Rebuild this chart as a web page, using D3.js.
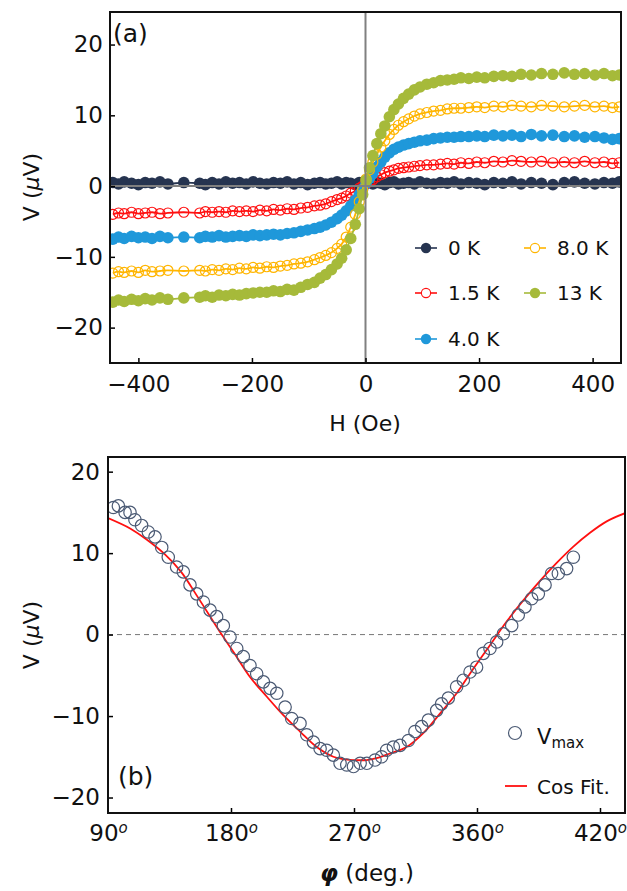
<!DOCTYPE html>
<html>
<head>
<meta charset="utf-8">
<script src="https://cdn.jsdelivr.net/npm/d3@7"></script>
<style>
body { margin: 0; background: #fff; }
svg text { font-family: "DejaVu Sans", sans-serif; fill: #111; }
</style>
</head>
<body>
<svg id="fig" width="627" height="891"></svg>
<script>
// ---- panel (a): V vs H, one row of 10 values per line ----
var fieldOe = [
  -445, -435, -425, -412, -400, -388, -376, -362, -348, -320,
  -292, -282, -270, -258, -246, -234, -222, -210, -198, -186,
  -174, -162, -150, -138, -126, -114, -102, -90, -80, -70,
  -60, -50, -42, -34, -26, -18, -11, -5, 1, 7,
  13, 20, 27, 34, 42, 50, 58, 67, 76, 86,
  96, 108, 120, 132, 144, 156, 168, 182, 196, 210,
  226, 242, 258, 274, 292, 310, 330, 350, 368, 386,
  404, 420, 435, 447
]
var v0K = [
  0.5, 0.3, 0.6, 0.4, 0.2, 0.5, 0.4, 0.6, 0.3, 0.5,
  0.4, 0.2, 0.5, 0.3, 0.6, 0.4, 0.5, 0.3, 0.6, 0.4,
  0.3, 0.5, 0.4, 0.6, 0.3, 0.5, 0.2, 0.4, 0.5, 0.3,
  0.4, 0.6, 0.3, 0.5, 0.4, 0.2, 0.5, 0.3, 0.4, 0.6,
  0.3, 0.5, 0.4, 0.2, 0.5, 0.6, 0.3, 0.4, 0.5, 0.3,
  0.6, 0.4, 0.3, 0.5, 0.4, 0.6, 0.3, 0.5, 0.4, 0.2,
  0.5, 0.4, 0.6, 0.3, 0.5, 0.4, 0.2, 0.5, 0.6, 0.4,
  0.3, 0.5, 0.4, 0.6
]
var v1p5K = [
  -4.0, -3.8, -3.9, -3.7, -3.9, -3.8, -3.7, -3.9, -3.8, -3.7,
  -3.8, -3.6, -3.7, -3.6, -3.7, -3.5, -3.6, -3.5, -3.6, -3.4,
  -3.5, -3.3, -3.4, -3.2, -3.3, -3.1, -3.0, -2.8, -2.7, -2.5,
  -2.2, -1.9, -1.7, -1.4, -1.0, -0.7, -0.3, 0.0, 0.3, 0.6,
  0.9, 1.3, 1.6, 1.9, 2.1, 2.3, 2.5, 2.6, 2.7, 2.8,
  2.9, 3.0, 3.0, 3.1, 3.2, 3.1, 3.3, 3.2, 3.4, 3.3,
  3.5, 3.4, 3.6, 3.5, 3.4, 3.5, 3.3, 3.4, 3.3, 3.5,
  3.3, 3.4, 3.2, 3.3
]
var v4K = [
  -7.5, -7.2, -7.4, -7.1, -7.3, -7.2, -7.4, -7.1, -7.3, -7.2,
  -7.3, -7.1, -7.2, -7.0, -7.2, -7.1, -7.0, -7.1, -6.9, -7.0,
  -6.9, -6.8, -6.9, -6.7, -6.6, -6.4, -6.2, -6.0, -5.8, -5.5,
  -5.1, -4.6, -4.1, -3.5, -2.8, -2.0, -1.2, -0.4, 0.4, 1.1,
  1.8, 2.7, 3.4, 4.1, 4.7, 5.2, 5.5, 5.8, 6.0, 6.2,
  6.4, 6.5, 6.7, 6.8, 6.9, 6.9, 7.0, 7.0, 7.1, 7.0,
  7.2, 7.1, 7.2, 7.0, 7.3, 7.1, 7.2, 7.0, 7.1, 6.9,
  7.0, 6.8, 6.6, 6.7
]
var v8K = [
  -12.3, -12.1, -12.2, -12.0, -12.2, -11.9, -12.1, -12.0, -11.9, -12.0,
  -11.9, -12.0, -11.8, -11.9, -11.7, -11.8, -11.6, -11.7, -11.5, -11.6,
  -11.4, -11.5, -11.3, -11.2, -11.0, -10.9, -10.7, -10.4, -10.1, -9.8,
  -9.4, -8.8, -8.2, -7.2, -5.8, -4.0, -2.2, -0.5, 1.0, 2.3,
  3.4, 4.5, 5.5, 6.4, 7.3, 8.0, 8.6, 9.1, 9.5, 9.9,
  10.2, 10.4, 10.6, 10.7, 10.9, 11.0, 11.0, 11.1, 11.2, 11.1,
  11.3, 11.2, 11.4, 11.3, 11.2, 11.4, 11.3, 11.2, 11.3, 11.4,
  11.2, 11.3, 11.1, 11.2
]
var v13K = [
  -16.4, -16.1, -16.3, -16.0, -16.2, -15.9, -16.1, -15.8, -16.0, -15.8,
  -15.7, -15.5, -15.7, -15.4, -15.5, -15.3, -15.4, -15.2, -15.1, -15.0,
  -15.0, -14.8, -14.9, -14.6, -14.7, -14.3, -13.9, -13.6, -13.0, -12.5,
  -11.8, -11.0, -10.2, -9.0, -7.4, -5.4, -3.2, -1.2, 0.8, 2.6,
  4.3, 6.0, 7.4, 8.5, 9.8, 10.8, 11.6, 12.4, 13.0, 13.6,
  14.0, 14.4, 14.6, 14.9, 15.0, 15.1, 15.3, 15.2, 15.4, 15.3,
  15.5, 15.6, 15.5, 15.8, 15.7, 15.9, 15.8, 16.0, 15.8, 15.9,
  15.7, 15.9, 15.6, 15.7
]
var tempLabels = ["0 K", "1.5 K", "4.0 K", "8.0 K", "13 K"]
var tempColors = ["#263450", "#ff1010", "#1f98da", "#ffb500", "#a6ba3a"]
var tempHollow = [false, true, false, true, false]
var hTicks = [-400, -200, 0, 200, 400]
var vTicks = [-20, -10, 0, 10, 20]

// ---- panel (b): V_max vs angle ----
var phiDeg = [
  93.9, 97.6, 102.5, 106.1, 109.7, 114.6, 119.5, 124.4, 129.3, 134.1,
  140.2, 145.1, 150.0, 154.9, 159.8, 164.7, 169.5, 174.4, 179.3, 184.2,
  189.0, 193.9, 198.8, 203.7, 208.6, 213.5, 219.6, 224.4, 230.5, 235.4,
  240.3, 245.2, 250.0, 254.9, 259.8, 264.7, 269.6, 274.5, 279.4, 285.4,
  290.2, 293.9, 298.8, 303.7, 309.8, 314.6, 319.5, 324.4, 330.5, 334.1,
  339.0, 345.1, 350.0, 354.9, 359.7, 364.6, 369.5, 374.4, 379.3, 385.4,
  390.2, 395.1, 400.0, 404.9, 409.8, 414.6, 419.5, 425.6, 430.5
]
var vMax = [
  15.6, 15.8, 15.0, 15.0, 14.1, 13.4, 12.6, 12.0, 10.7, 9.5,
  8.3, 7.7, 6.1, 5.0, 4.0, 3.0, 2.2, 1.1, -0.3, -1.7,
  -2.7, -3.8, -4.8, -5.8, -6.6, -7.2, -8.9, -10.3, -10.9, -12.3,
  -13.2, -14.0, -14.2, -14.8, -15.8, -16.0, -16.2, -15.8, -15.8, -15.4,
  -15.0, -14.2, -13.8, -13.6, -13.0, -11.9, -11.3, -10.5, -9.3, -8.5,
  -7.8, -6.4, -5.6, -4.6, -4.0, -2.3, -1.7, -0.9, 0.1, 1.1,
  2.4, 3.4, 4.4, 5.0, 6.1, 7.5, 7.5, 8.1, 9.5
]
var fitPhi = [90, 106.5, 118, 131.3, 143.5, 155.7, 173.2, 181.7, 193.9, 206.1, 218.3,
  230.5, 242.7, 254.9, 262, 269.6, 279.3, 288, 296.3, 308.5, 320.7, 332.9, 345.1,
  357.3, 369.5, 381.7, 393.9, 406.1, 418.3, 430.5, 442.7, 454.9, 468.3]
var fitV = [14.3, 13.0, 11.7, 9.9, 7.7, 4.6, 0.0, -2.1, -5.2, -7.6, -9.9,
  -11.9, -13.8, -15.0, -15.3, -15.4, -15.4, -15.1, -14.6, -13.8, -12.1, -9.7, -7.2,
  -4.2, -1.3, 1.6, 4.2, 6.6, 8.8, 10.8, 12.5, 13.9, 14.9]
var phiTicks = [90, 180, 270, 360, 450]
var phiTickLabels = ["90", "180", "270", "360", "420"]

var svg = d3.select("#fig")

// ================= panel (a) =================
var xA = d3.scaleLinear().domain([-450, 450]).range([110, 621])
var yA = d3.scaleLinear().domain([-25, 24.6]).range([363, 12])

svg.append("clipPath").attr("id", "clipA").append("rect")
    .attr("x", 110).attr("y", 12).attr("width", 511).attr("height", 351)

var series = tempLabels.map(function(t, i) {
    var vals = [v0K, v1p5K, v4K, v8K, v13K][i]
    return {label: t, color: tempColors[i], hollow: tempHollow[i],
            pts: fieldOe.map(function(h, j) { return [h, vals[j]] })}
})

var gA = svg.append("g").attr("clip-path", "url(#clipA)")
var lineA = d3.line()
    .x(function(d) { return xA(d[0]) })
    .y(function(d) { return yA(d[1]) })
    .curve(d3.curveMonotoneX)

series.forEach(function(s) {
    var g = gA.append("g")
    g.append("path")
        .attr("d", lineA(s.pts))
        .attr("fill", "none")
        .attr("stroke", s.color)
        .attr("stroke-width", 1.8)
    g.selectAll("circle").data(s.pts).enter().append("circle")
        .attr("cx", function(d) { return xA(d[0]) })
        .attr("cy", function(d) { return yA(d[1]) })
        .attr("r", s.hollow ? 5 : 5.8)
        .attr("fill", s.hollow ? "none" : s.color)
        .attr("stroke", s.color)
        .attr("stroke-width", s.hollow ? 1.2 : 0)
})

// zero lines on top of data
svg.append("line")
    .attr("x1", xA(0)).attr("x2", xA(0)).attr("y1", 12).attr("y2", 363)
    .attr("stroke", "#808080").attr("stroke-width", 2)
svg.append("line")
    .attr("x1", 110).attr("x2", 621).attr("y1", yA(0)).attr("y2", yA(0))
    .attr("stroke", "#808080").attr("stroke-width", 2)

var axA = svg.append("g").attr("transform", "translate(0,363)")
    .call(d3.axisBottom(xA).tickValues(hTicks).tickSizeInner(-5).tickSizeOuter(0).tickPadding(13))
var ayA = svg.append("g").attr("transform", "translate(110,0)")
    .call(d3.axisLeft(yA).tickValues(vTicks).tickSizeInner(-5).tickSizeOuter(0).tickPadding(7))
;[axA, ayA].forEach(function(a) {
    a.select(".domain").remove()
    a.selectAll(".tick line").attr("stroke", "#000").attr("stroke-width", 1.5)
    a.selectAll(".tick text").attr("font-size", 23).attr("fill", "#111")
        .style("font-family", '"DejaVu Sans", sans-serif')
})
svg.append("rect")
    .attr("x", 110).attr("y", 12).attr("width", 511).attr("height", 351)
    .attr("fill", "none").attr("stroke", "#111").attr("stroke-width", 2)

svg.append("text").attr("x", 113).attr("y", 42).attr("font-size", 25).text("(a)")
svg.append("text").attr("x", 365).attr("y", 431).attr("text-anchor", "middle")
    .attr("font-size", 22).text("H (Oe)")
var ylabA = svg.append("text")
    .attr("transform", "translate(39,187) rotate(-90)")
    .attr("text-anchor", "middle").attr("font-size", 22)
ylabA.append("tspan").text("V (")
ylabA.append("tspan").attr("font-style", "italic").text("μ")
ylabA.append("tspan").text("V)")

// legend (a)
var legPos = [[426, 248], [426, 293], [426, 339], [535, 248], [535, 293]]
series.forEach(function(s, i) {
    var p = legPos[i]
    var g = svg.append("g")
    g.append("line").attr("x1", p[0] - 11).attr("x2", p[0] + 11)
        .attr("y1", p[1]).attr("y2", p[1])
        .attr("stroke", s.color).attr("stroke-width", 1.6)
    g.append("circle").attr("cx", p[0]).attr("cy", p[1]).attr("r", s.hollow ? 4.6 : 5.2)
        .attr("fill", s.hollow ? "#fff" : s.color)
        .attr("stroke", s.color).attr("stroke-width", s.hollow ? 1.1 : 0)
    g.append("text").attr("x", p[0] + 22).attr("y", p[1]).attr("dy", "0.36em")
        .attr("font-size", 20).text(s.label)
})

// ================= panel (b) =================
var xB = d3.scaleLinear().domain([90, 468.3]).range([108, 625])
var yB = d3.scaleLinear().domain([-21.9, 21.8]).range([813, 457])

svg.append("clipPath").attr("id", "clipB").append("rect")
    .attr("x", 108).attr("y", 457).attr("width", 517).attr("height", 356)
var gB = svg.append("g").attr("clip-path", "url(#clipB)")

gB.append("line")
    .attr("x1", 108).attr("x2", 625).attr("y1", yB(0)).attr("y2", yB(0))
    .attr("stroke", "#777").attr("stroke-width", 1).attr("stroke-dasharray", "5,4")

var fitPts = fitPhi.map(function(p, i) { return [p, fitV[i]] })
gB.append("path")
    .attr("d", d3.line()
        .x(function(d) { return xB(d[0]) })
        .y(function(d) { return yB(d[1]) })
        .curve(d3.curveCatmullRom)(fitPts))
    .attr("fill", "none").attr("stroke", "#ff1010").attr("stroke-width", 1.8)

var vPts = phiDeg.map(function(p, i) { return [p, vMax[i]] })
gB.selectAll("circle.vmax").data(vPts).enter().append("circle")
    .attr("class", "vmax")
    .attr("cx", function(d) { return xB(d[0]) })
    .attr("cy", function(d) { return yB(d[1]) })
    .attr("r", 6.2)
    .attr("fill", "none").attr("stroke", "#4b5a74").attr("stroke-width", 1.2)

var axB = svg.append("g").attr("transform", "translate(0,813)")
    .call(d3.axisBottom(xB).tickValues(phiTicks).tickSizeInner(-5).tickSizeOuter(0).tickPadding(12)
        .tickFormat(function(d, i) { return phiTickLabels[i] }))
var ayB = svg.append("g").attr("transform", "translate(108,0)")
    .call(d3.axisLeft(yB).tickValues(vTicks).tickSizeInner(-5).tickSizeOuter(0).tickPadding(8))
;[axB, ayB].forEach(function(a) {
    a.select(".domain").remove()
    a.selectAll(".tick line").attr("stroke", "#000").attr("stroke-width", 1.5)
    a.selectAll(".tick text").attr("font-size", 23).attr("fill", "#111")
        .style("font-family", '"DejaVu Sans", sans-serif')
})
// degree sign as superscript "o"
axB.selectAll(".tick text").each(function(d, i) {
    var t = d3.select(this)
    t.text(null)
    t.append("tspan").text(phiTickLabels[i])
    t.append("tspan").attr("font-size", 15).attr("font-style", "italic")
        .attr("dy", "-0.55em").text("o")
})
axB.selectAll(".tick line").filter(function(d) { return d === 90 }).remove()

svg.append("rect")
    .attr("x", 108).attr("y", 457).attr("width", 517).attr("height", 356)
    .attr("fill", "none").attr("stroke", "#111").attr("stroke-width", 2)

svg.append("text").attr("x", 118).attr("y", 785).attr("font-size", 25).text("(b)")

var xlabB = svg.append("text").attr("x", 367).attr("y", 881)
    .attr("text-anchor", "middle").attr("font-size", 23)
xlabB.append("tspan").attr("font-style", "italic").attr("font-weight", "bold").text("φ")
xlabB.append("tspan").text(" (deg.)")

var ylabB = svg.append("text")
    .attr("transform", "translate(39,635) rotate(-90)")
    .attr("text-anchor", "middle").attr("font-size", 22)
ylabB.append("tspan").text("V (")
ylabB.append("tspan").attr("font-style", "italic").text("μ")
ylabB.append("tspan").text("V)")

// legend (b)
svg.append("circle").attr("cx", 515).attr("cy", 733).attr("r", 6.5)
    .attr("fill", "none").attr("stroke", "#4b5a74").attr("stroke-width", 1.2)
var vm = svg.append("text").attr("x", 537).attr("y", 744).attr("font-size", 21)
vm.append("tspan").text("V")
vm.append("tspan").attr("font-size", 15).attr("dy", "0.25em").text("max")
svg.append("line").attr("x1", 505).attr("x2", 527).attr("y1", 786).attr("y2", 786)
    .attr("stroke", "#ff1010").attr("stroke-width", 1.8)
svg.append("text").attr("x", 537).attr("y", 794).attr("font-size", 20).text("Cos Fit.")
</script>
</body>
</html>
